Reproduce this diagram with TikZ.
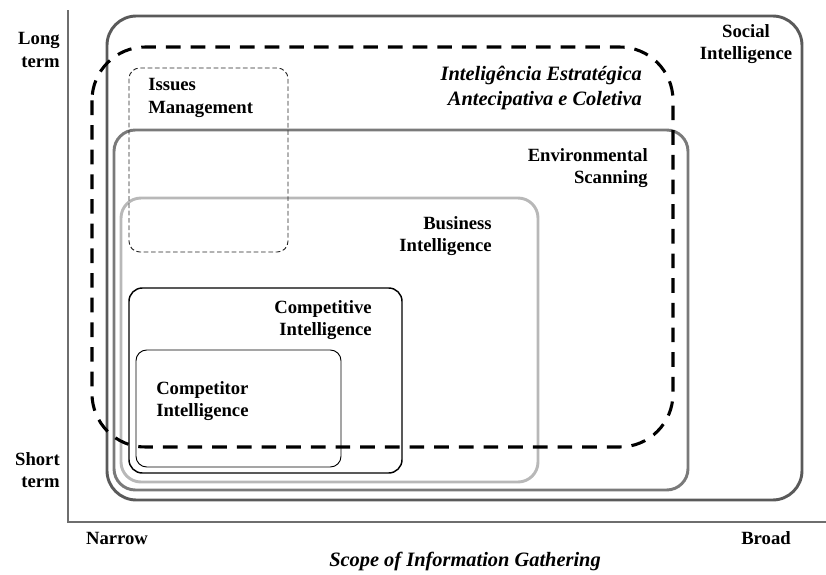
\documentclass[tikz,border=0pt]{standalone}
\usepackage{fontspec}
\setmainfont{Liberation Serif}
\definecolor{socialgray}{HTML}{5A5A5A}
\definecolor{envgray}{HTML}{7A7A7A}
\definecolor{bizgray}{HTML}{B8B8B8}
\definecolor{axisgray}{HTML}{6E6E6E}
\tikzset{
  lbl/.style={font=\fontsize{14}{17}\selectfont\bfseries, inner sep=0pt},
  lblit/.style={font=\fontsize{15.3}{18.8}\selectfont\bfseries\itshape, inner sep=0pt},
  framebox/.style={line width=2.2pt},
}
\begin{document}
\begin{tikzpicture}[x=0.75pt,y=-0.75pt]
  \useasboundingbox (0,0) rectangle (826,575);

  % Eixos
  \draw[axisgray, line width=0.8pt] (68,10) -- (68,522) -- (826,522);

  % Caixas
  \draw[framebox, socialgray, rounded corners=22pt] (107,16) rectangle (802,500);
  \draw[framebox, envgray, rounded corners=16pt] (114,130) rectangle (688,490);
  \draw[framebox, bizgray, rounded corners=15pt] (121,198) rectangle (538,482);
  \draw[black, line width=1.1pt, rounded corners=10pt] (129,288) rectangle (402,473);
  \draw[black, line width=0.7pt, rounded corners=8pt] (136,350) rectangle (341,467);
  \draw[black!85, line width=0.7pt, dash pattern=on 3.5pt off 2pt, rounded corners=8pt] (129,68) rectangle (288,252);
  \draw[black, line width=2.3pt, dash pattern=on 11pt off 7.5pt, rounded corners=40pt] (92,47) rectangle (673,447);

  % Textos
  \node[lbl, align=right, anchor=east] (longterm) at (60,50) {Long\\term};
  \node[lbl, align=right, anchor=east] (shortterm) at (60,470) {Short\\term};
  \node[lbl] (narrow) at (117,538) {Narrow};
  \node[lbl] (broad) at (766,538) {Broad};
  \node[lblit] (scope) at (465,561) {Scope of Information Gathering};

  \node[lbl, align=center] (social) at (746,44) {Social\\Intelligence};
  \node[lblit, align=right, anchor=east] (ieac) at (642,88) {Inteligência Estratégica\\Antecipativa e Coletiva};
  \node[lbl, align=right, anchor=east] (env) at (648,168) {Environmental\\Scanning};
  \node[lbl, align=right, anchor=east] (biz) at (492,236) {Business\\Intelligence};
  \node[lbl, align=right, anchor=east] (compve) at (372,320) {Competitive\\Intelligence};
  \node[lbl, align=left, anchor=west] (compor) at (156,401) {Competitor\\Intelligence};
  \node[lbl, align=left, anchor=west] (issues) at (148,98) {Issues\\Management};
\end{tikzpicture}
\end{document}
